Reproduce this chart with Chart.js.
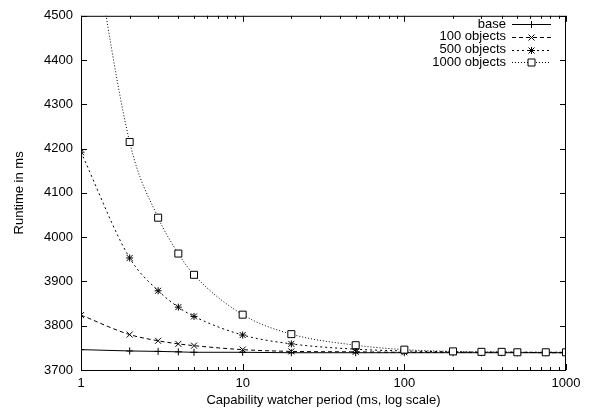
<!DOCTYPE html>
<html>
<head>
<meta charset="utf-8">
<script src="https://cdn.jsdelivr.net/npm/chart.js@4/dist/chart.umd.min.js"></script>
<style>
  html, body { margin: 0; padding: 0; background: #fff; }
  #wrap { width: 596px; height: 415px; }
</style>
</head>
<body>
<div id="wrap"><canvas id="runtime-chart"></canvas></div>
<script>
const periods = [1, 2, 3, 4, 5, 10, 20, 50, 100, 200, 300, 400, 500, 750, 1000];
const baseRuntime = [3746, 3743, 3742, 3741, 3740, 3740, 3739, 3739, 3739, 3739, 3739, 3739, 3739, 3739, 3739];
const obj100Runtime = [3824, 3780, 3766, 3759, 3755, 3746, 3742, 3741, 3740, 3740, 3740, 3740, 3740, 3739, 3739];
const obj500Runtime = [4192, 3953, 3879, 3842, 3821, 3779, 3759, 3747, 3743, 3741, 3740, 3740, 3740, 3740, 3740];
const obj1000Runtime = [4850, 4215, 4044, 3963, 3915, 3825, 3781, 3756, 3746, 3742, 3741, 3741, 3740, 3740, 3740];
const seriesLabels = ['base', '100 objects', '500 objects', '1000 objects'];
const xTickValues = [1, 10, 100, 1000];

const FONT = { family: "'Liberation Sans', Arial, Helvetica, sans-serif", size: 13 };

function pts(values) {
  return periods.map((p, i) => ({ x: p, y: values[i] }));
}

// marker shapes, gnuplot style
function drawMarker(ctx, kind, x, y) {
  ctx.save();
  ctx.setLineDash([]);
  ctx.strokeStyle = '#000';
  ctx.lineWidth = 1;
  ctx.beginPath();
  if (kind === 'plus' || kind === 'star') {
    ctx.moveTo(x - 3.5, y); ctx.lineTo(x + 3.5, y);
    ctx.moveTo(x, y - 3.5); ctx.lineTo(x, y + 3.5);
  }
  if (kind === 'x' || kind === 'star') {
    ctx.moveTo(x - 3, y - 3); ctx.lineTo(x + 3, y + 3);
    ctx.moveTo(x - 3, y + 3); ctx.lineTo(x + 3, y - 3);
  }
  if (kind === 'square') {
    ctx.fillStyle = '#fff';
    ctx.fillRect(x - 3.5, y - 3.5, 7, 7);
    ctx.rect(x - 3.5, y - 3.5, 7, 7);
  }
  ctx.stroke();
  ctx.restore();
}

const markerKinds = ['plus', 'x', 'star', 'square'];
const dashes = [[], [4, 3], [2, 3], [1, 2]];

const gnuplotFrame = {
  id: 'gnuplotFrame',
  afterDatasetsDraw(chart) {
    const { ctx, chartArea: a } = chart;
    const xs = chart.scales.x, ys = chart.scales.y;
    ctx.save();
    // markers on top of lines, clipped to plot area
    ctx.beginPath();
    ctx.rect(a.left, a.top, a.right - a.left, a.bottom - a.top);
    ctx.clip();
    chart.data.datasets.forEach((ds, i) => {
      ds.data.forEach(p => {
        const px = xs.getPixelForValue(p.x), py = ys.getPixelForValue(p.y);
        if (py >= a.top - 4) drawMarker(ctx, markerKinds[i], px, py);
      });
    });
    ctx.restore();

    ctx.save();
    ctx.strokeStyle = '#000';
    ctx.lineWidth = 1;
    ctx.setLineDash([]);
    ctx.strokeRect(a.left + 0.5, a.top + 0.5, a.right - a.left - 1, a.bottom - a.top);
    ctx.beginPath();
    // y ticks, inward on both sides
    for (let v = 3700; v <= 4500; v += 100) {
      const py = Math.round(ys.getPixelForValue(v)) + 0.5;
      ctx.moveTo(a.left, py); ctx.lineTo(a.left + 6, py);
      ctx.moveTo(a.right, py); ctx.lineTo(a.right - 6, py);
    }
    // x ticks, major and minor
    for (let d = 1; d <= 1000; d *= 10) {
      for (let k = 1; k <= 9; k++) {
        const v = d * k;
        if (v > 1000) break;
        const len = k === 1 ? 6 : 3;
        const px = Math.round(xs.getPixelForValue(v)) + 0.5;
        ctx.moveTo(px, a.bottom); ctx.lineTo(px, a.bottom - len);
        ctx.moveTo(px, a.top); ctx.lineTo(px, a.top + len);
      }
    }
    ctx.stroke();

    // legend, top right inside plot
    ctx.font = FONT.size + 'px ' + FONT.family;
    ctx.fillStyle = '#000';
    ctx.textAlign = 'right';
    ctx.textBaseline = 'middle';
    seriesLabels.forEach((lab, i) => {
      const y = 24 + i * 12.8;
      ctx.fillText(lab, 506, y);
      ctx.beginPath();
      ctx.setLineDash(dashes[i]);
      ctx.moveTo(512, Math.round(y) + 0.5);
      ctx.lineTo(551, Math.round(y) + 0.5);
      ctx.stroke();
      ctx.setLineDash([]);
      drawMarker(ctx, markerKinds[i], 531.5, Math.round(y) + 0.5);
    });
    ctx.restore();
  }
};

const values = [baseRuntime, obj100Runtime, obj500Runtime, obj1000Runtime];

new Chart(document.getElementById('runtime-chart'), {
  type: 'line',
  data: {
    datasets: seriesLabels.map((lab, i) => ({
      label: lab,
      data: pts(values[i]),
      borderColor: '#000',
      borderWidth: 1,
      borderDash: dashes[i],
      pointRadius: 0,
      cubicInterpolationMode: 'monotone',
      fill: false
    }))
  },
  options: {
    responsive: true,
    maintainAspectRatio: false,
    animation: false,
    layout: { padding: { top: 13, right: 30, left: 0, bottom: 0 } },
    plugins: {
      legend: { display: false },
      tooltip: { enabled: false }
    },
    scales: {
      x: {
        type: 'logarithmic',
        min: 1,
        max: 1000,
        afterBuildTicks: (scale) => { scale.ticks = xTickValues.map(v => ({ value: v })); },
        afterFit: (scale) => { scale.height = 45; },
        grid: { display: false, drawTicks: false },
        border: { display: false },
        ticks: {
          color: '#000',
          font: FONT,
          padding: 6,
          maxRotation: 0,
          autoSkip: false,
          callback: (v) => String(v)
        },
        title: {
          display: true,
          text: 'Capability watcher period (ms, log scale)',
          color: '#000',
          font: FONT,
          padding: { top: 0, bottom: 7 }
        }
      },
      y: {
        min: 3700,
        max: 4500,
        afterFit: (scale) => { scale.width = 81; },
        grid: { display: false, drawTicks: false },
        border: { display: false },
        ticks: {
          stepSize: 100,
          color: '#000',
          font: FONT,
          padding: 8,
          callback: (v) => String(v)
        },
        title: {
          display: true,
          text: 'Runtime in ms',
          color: '#000',
          font: FONT,
          padding: { top: 12, bottom: 0 }
        }
      }
    }
  },
  plugins: [gnuplotFrame]
});
</script>
</body>
</html>
